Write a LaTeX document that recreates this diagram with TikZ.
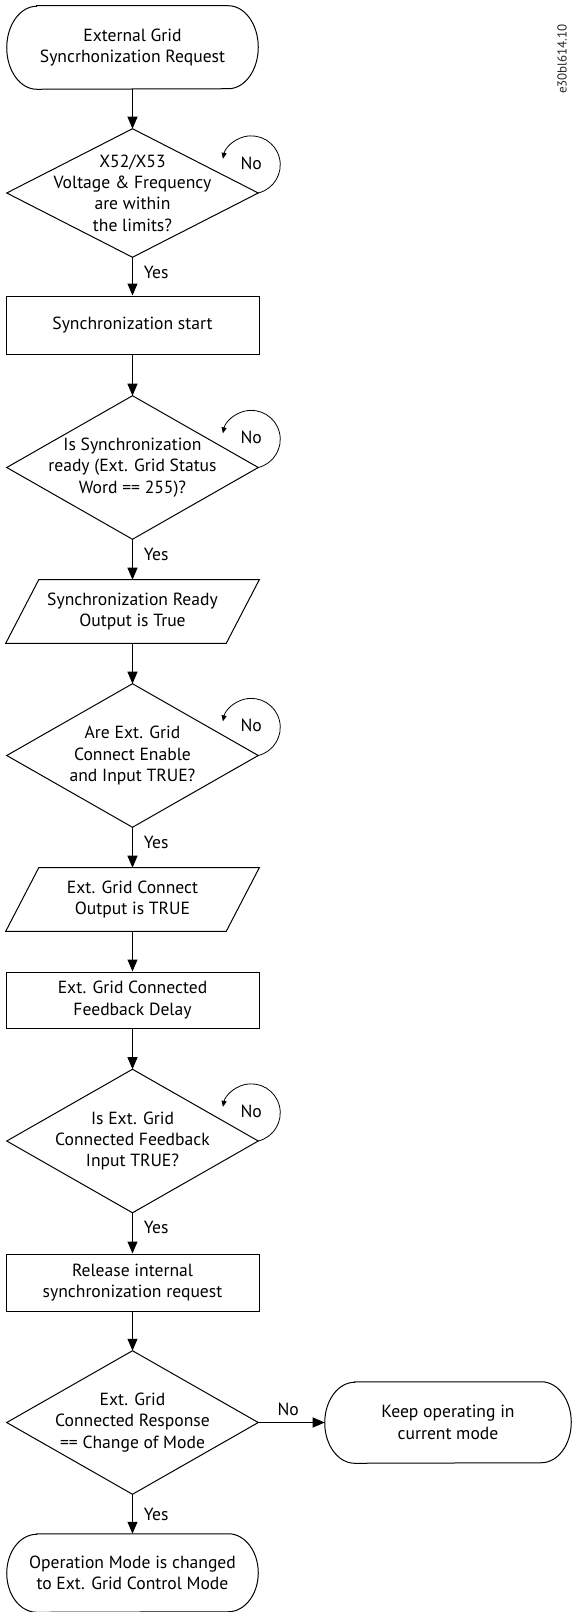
\documentclass[tikz,border=0pt]{standalone}
\usepackage{fontspec}
\setmainfont{PT Sans}
\usetikzlibrary{arrows.meta,calc}
\newcommand\stadiumpath[3]{%
  \draw[shapeline] ($(#1.north west)+(#2,0)$) -- ($(#1.north east)-(#2,0)$)
    arc[start angle=-90,end angle=90,x radius=#2,y radius=#3]
    -- ($(#1.south west)+(#2,0)$)
    arc[start angle=90,end angle=270,x radius=#2,y radius=#3] -- cycle;}
\newcommand\diamondpath[1]{%
  \draw[shapeline] (#1.north) -- (#1.east) -- (#1.south) -- (#1.west) -- cycle;}
\newcommand\parapath[2]{%
  \draw[shapeline] ($(#1.north west)+(#2,0)$) -- (#1.north east)
    -- ($(#1.south east)-(#2,0)$) -- (#1.south west) -- cycle;}
\newcommand\loopback[1]{%
  \draw[loopline] (#1.east) arc[start angle=76,end angle=-168,radius=29];
  \node[font=\fontsize{13.2}{16}\selectfont] at ($(#1.east)+(-7,-30)$) {No};}
\begin{document}
\begin{tikzpicture}[x=0.75pt,y=-0.75pt,
  every node/.style={font=\fontsize{13.2}{16}\selectfont, align=center, inner sep=0pt},
  shapeline/.style={line width=0.75pt, line join=miter},
  conn/.style={line width=0.75pt, -{Triangle[length=9pt,width=7.5pt]}},
  loopline/.style={line width=0.6pt, -{Triangle[length=4.5pt,width=3.8pt]}},
  lbl/.style={anchor=west},
  term/.style={minimum width=188.25pt, minimum height=62.25pt},
  procbox/.style={draw, line width=0.75pt, minimum width=189.75pt},
  decision/.style={minimum width=188.25pt, minimum height=107.25pt},
  iobox/.style={minimum width=189.75pt, minimum height=47.25pt}]
\useasboundingbox (0,0) rectangle (572,1612);

\node[term] (start) at (132.5,47.5) {External Grid\\Syncrhonization Request};
\stadiumpath{start}{30}{41.5}

\node[decision, minimum height=96pt] (d1) at (132.5,193) {X52/X53\\Voltage \& Frequency\\are within\\the limits?};
\diamondpath{d1}

\node[procbox, minimum height=43.5pt] (b1) at (132.5,325) {Synchronization start};

\node[decision] (d2) at (132.5,467.5) {Is Synchronization\\ready (Ext. Grid Status\\Word == 255)?};
\diamondpath{d2}

\node[iobox] (p1) at (132.5,611.5) {Synchronization Ready\\Output is True};
\parapath{p1}{33}

\node[decision] (d3) at (132.5,755.5) {Are Ext. Grid\\Connect Enable\\and Input TRUE?};
\diamondpath{d3}

\node[iobox] (p2) at (132.5,899.5) {Ext. Grid Connect\\Output is TRUE};
\parapath{p2}{33}

\node[procbox, minimum height=42pt] (b2) at (132.5,1000) {Ext. Grid Connected\\Feedback Delay};

\node[decision] (d4) at (132.5,1141) {Is Ext. Grid\\Connected Feedback\\Input TRUE?};
\diamondpath{d4}

\node[procbox, minimum height=42.75pt] (b3) at (132.5,1282.5) {Release internal\\synchronization request};

\node[decision] (d5) at (132.5,1422.5) {Ext. Grid\\Connected Response\\== Change of Mode};
\diamondpath{d5}

\node[term, minimum width=184.5pt, minimum height=60.75pt] (keep) at (448,1422.5) {Keep operating in\\current mode};
\stadiumpath{keep}{30}{40.5}

\node[term, minimum height=58.5pt] (final) at (132.5,1573) {Operation Mode is changed\\to Ext. Grid Control Mode};
\stadiumpath{final}{30}{39}

\draw[conn] (start) -- (d1.north);
\draw[conn] (d1.south) -- (b1);
\draw[conn] (b1) -- (d2.north);
\draw[conn] (d2.south) -- (p1);
\draw[conn] (p1) -- (d3.north);
\draw[conn] (d3.south) -- (p2);
\draw[conn] (p2) -- (b2);
\draw[conn] (b2) -- (d4.north);
\draw[conn] (d4.south) -- (b3);
\draw[conn] (b3) -- (d5.north);
\draw[conn] (d5.south) -- (final);
\draw[conn] (d5.east) -- (keep.west);

\node[lbl] at ($(d1.south)+(11,15)$) {Yes};
\node[lbl] at ($(d2.south)+(11,15)$) {Yes};
\node[lbl] at ($(d3.south)+(11,15)$) {Yes};
\node[lbl] at ($(d4.south)+(11,15)$) {Yes};
\node[lbl] at ($(d5.south)+(11,20)$) {Yes};
\node at ($(d5.east)+(30,-13)$) {No};

\loopback{d1}
\loopback{d2}
\loopback{d3}
\loopback{d4}

\node[rotate=90, font=\fontsize{9.75}{12}\selectfont, text=black!85] (code) at (562,59) {e30bl614.10};
\end{tikzpicture}
\end{document}
